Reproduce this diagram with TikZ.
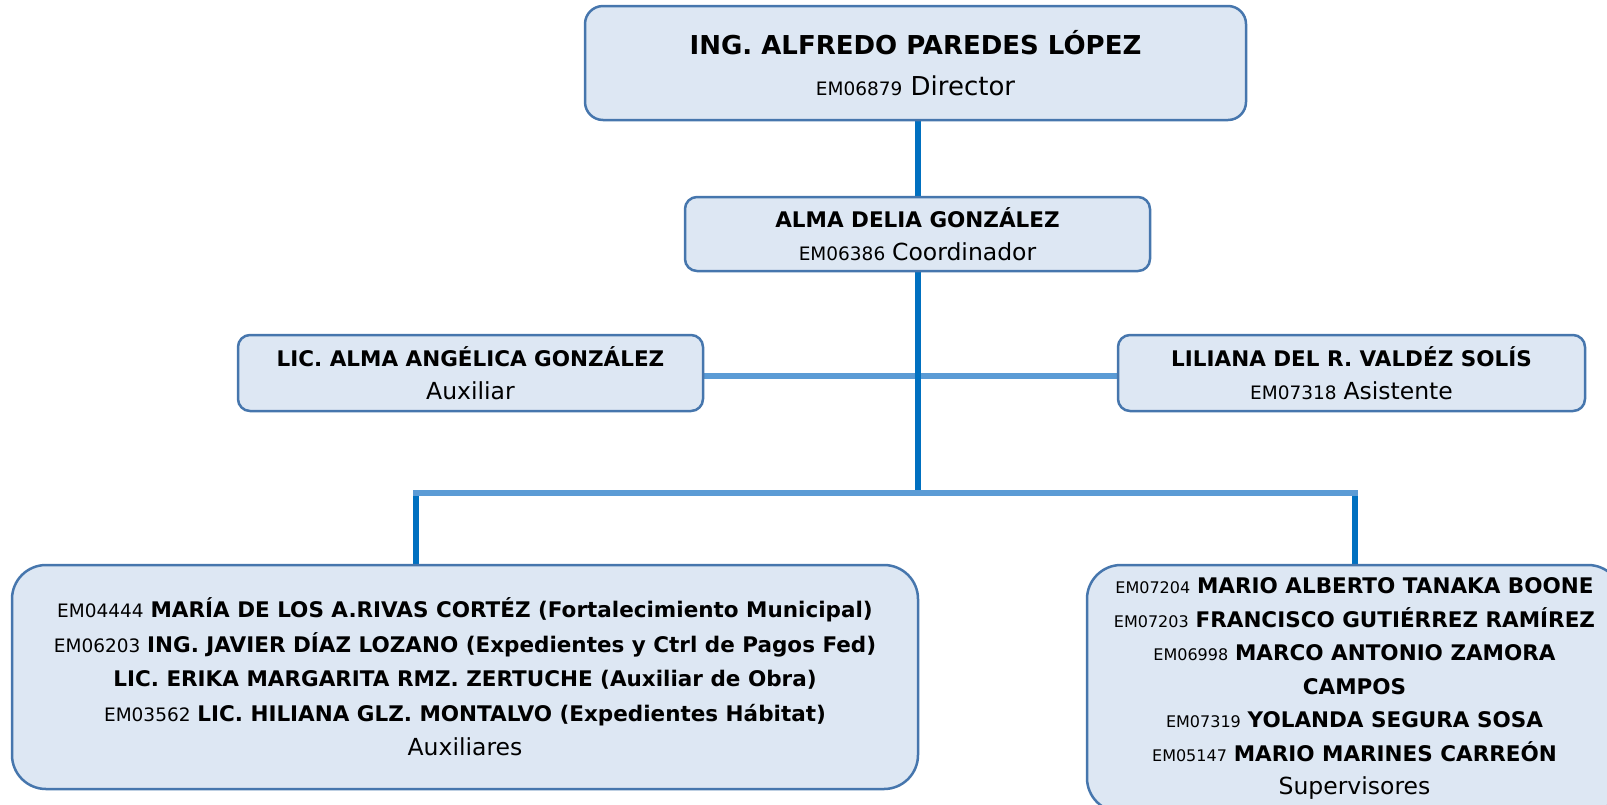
\documentclass[tikz,border=0pt]{standalone}
\usepackage{fontspec}
\setmainfont{DejaVu Sans}
\usetikzlibrary{backgrounds}

\definecolor{relleno}{HTML}{DDE7F3}
\definecolor{borde}{HTML}{4676AD}
\definecolor{lineaOscura}{HTML}{0070C0}
\definecolor{lineaClara}{HTML}{5B9BD5}

\newcommand{\clave}[1]{{\fontsize{18.5}{33}\selectfont #1}}
\newcommand{\clavechica}[1]{{\fontsize{16}{33}\selectfont #1}}
\newcommand{\cargo}[1]{{\fontsize{23.5}{33}\selectfont #1}}

\begin{document}
\begin{tikzpicture}[
    x=1pt, y=-1pt,
    puesto/.style={
        rectangle,
        rounded corners=12pt,
        draw=borde,
        line width=2.5pt,
        fill=relleno,
        align=center,
        inner sep=0pt,
        font=\fontsize{21.5}{33}\selectfont
    },
    grupo/.style={
        puesto,
        rounded corners=34pt,
        font=\fontsize{21.5}{34.5}\selectfont
    },
    mando/.style={
        line width=6pt,
        lineaOscura
    },
    enlace/.style={
        line width=6pt,
        lineaClara
    }
]
\useasboundingbox (0,0) rectangle (1607,804);
\clip (0,0) rectangle (1607,804);

% Node 1: Director
\node[puesto, rounded corners=18pt, minimum width=661pt, minimum height=114pt,
      font=\fontsize{26}{41}\selectfont] (director) at (915.5,63) {
    \textbf{ING. ALFREDO PAREDES LÓPEZ}\\
    \clave{EM06879} Director
};

% Node 2: Coordinador
\node[puesto, minimum width=465pt, minimum height=74pt] (coordinador) at (917.5,234) {
    \textbf{ALMA DELIA GONZÁLEZ}\\
    \clave{EM06386} \cargo{Coordinador}
};

% Node 3: Auxiliar (izquierda)
\node[puesto, minimum width=465pt, minimum height=76pt] (auxiliar) at (470.5,373) {
    \textbf{LIC. ALMA ANGÉLICA GONZÁLEZ}\\
    \cargo{Auxiliar}
};

% Node 4: Asistente (derecha)
\node[puesto, minimum width=467pt, minimum height=76pt] (asistente) at (1351.5,373) {
    \textbf{LILIANA DEL R. VALDÉZ SOLÍS}\\
    \clave{EM07318} \cargo{Asistente}
};

% Node 5: Auxiliares
\node[grupo, minimum width=906pt, minimum height=224pt] (auxiliares) at (465,677) {
    \clave{EM04444} \textbf{MARÍA DE LOS A.RIVAS CORTÉZ (Fortalecimiento Municipal)}\\
    \clave{EM06203} \textbf{ING. JAVIER DÍAZ LOZANO (Expedientes y Ctrl de Pagos Fed)}\\
    \textbf{LIC. ERIKA MARGARITA RMZ. ZERTUCHE (Auxiliar de Obra)}\\
    \clave{EM03562} \textbf{LIC. HILIANA GLZ. MONTALVO (Expedientes Hábitat)}\\
    \cargo{Auxiliares}
};

% Node 6: Supervisores (cortado por el borde)
\node[grupo, font=\fontsize{21.5}{33.5}\selectfont,
      minimum width=535pt, minimum height=247pt] (supervisores) at (1354.5,688.5) {
    \clavechica{EM07204} \textbf{MARIO ALBERTO TANAKA BOONE}\\
    \clavechica{EM07203} \textbf{FRANCISCO GUTIÉRREZ RAMÍREZ}\\
    \clavechica{EM06998} \textbf{MARCO ANTONIO ZAMORA}\\
    \textbf{CAMPOS}\\
    \clavechica{EM07319} \textbf{YOLANDA SEGURA SOSA}\\
    \clavechica{EM05147} \textbf{MARIO MARINES CARREÓN}\\
    \cargo{Supervisores}
};

% Puntos de las ramas
\coordinate (nudo) at (918,493);
\coordinate (ramaIzq) at (416,493);
\coordinate (ramaDer) at (1355,493);

% Lineas (detras de las cajas)
\begin{scope}[on background layer]
\draw[enlace] ([yshift=-3pt]auxiliar.east) -- ([yshift=-3pt]asistente.west);
\draw[mando] (director.south -| nudo) -- (coordinador.north -| nudo);
\draw[mando] (coordinador.south -| nudo) -- (nudo);
\draw[mando] ([yshift=3pt]ramaIzq) -- (ramaIzq |- auxiliares.north);
\draw[mando] ([yshift=3pt]ramaDer) -- (ramaDer |- supervisores.north);
\draw[enlace] ([xshift=-3pt]ramaIzq) -- ([xshift=3pt]ramaDer);
\end{scope}

\end{tikzpicture}
\end{document}
